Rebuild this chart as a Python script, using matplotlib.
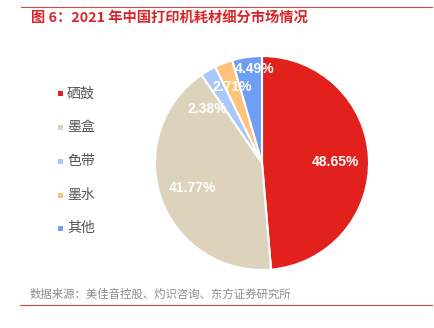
import numpy as np
import matplotlib
matplotlib.use("Agg")
import matplotlib.pyplot as plt
from matplotlib.lines import Line2D

plt.rcParams['font.family'] = ['Noto Sans CJK SC', 'DejaVu Sans']

categories = ['硒鼓', '墨盒', '色带', '墨水', '其他']
values = [48.65, 41.77, 2.38, 2.71, 4.49]
colors = ['#E2211C', '#DDD3BD', '#A9C8F7', '#FFC27A', '#6F9EF5']
label_dist = [0.69, 0.69, 0.72, 0.76, 0.88]
label_shift = [-1.5, 0.5, 15.0, 0.7, -3.8]   # degrees

W, H = 435, 328
fig = plt.figure(figsize=(W / 100, H / 100), dpi=100)

# pie axes: center (262,163), radius ~107 px
cx, cy, r = 262, 163, 107
ax = fig.add_axes([(cx - r) / W, 1 - (cy + r) / H, 2 * r / W, 2 * r / H])
wedges, _ = ax.pie(values, colors=colors, startangle=90, counterclock=False,
                   radius=1.0, wedgeprops=dict(edgecolor='white', linewidth=1.5))
ax.set_xlim(-1, 1)
ax.set_ylim(-1, 1)
ax.set_aspect('auto')
ax.axis('off')

total = sum(values)
cum = 0
for v, d, s in zip(values, label_dist, label_shift):
    mid = 90 - 360 * (cum + v / 2) / total + s
    cum += v
    a = np.deg2rad(mid)
    ax.text(d * np.cos(a), d * np.sin(a), f'{v:.2f}%', ha='center', va='center',
            color='white', fontsize=10, fontweight='bold', family=['Liberation Sans'])

# legend
ys = [93.5, 127.5, 161, 195, 228]
for cat, col, y in zip(categories, colors, ys):
    fig.patches.append(matplotlib.patches.Rectangle(
        ((58.5) / W, 1 - (y + 2.5) / H), 5 / W, 5 / H, transform=fig.transFigure,
        facecolor=col, edgecolor='none'))
    fig.text(67 / W, 1 - y / H, cat, ha='left', va='center', fontsize=10, color='#555555')

# title & frame lines
fig.add_artist(Line2D([21 / W, 432 / W], [1 - 6.5 / H, 1 - 6.5 / H], color='#D9473F', lw=0.8))
fig.add_artist(Line2D([20 / W, 432 / W], [1 - 304.5 / H, 1 - 304.5 / H], color='#D9473F', lw=0.8))
fig.text(31 / W, 1 - 18 / H, '图 6：2021 年中国打印机耗材细分市场情况', ha='left', va='center',
         fontsize=10.3, fontweight='bold', color='#D9262A')
fig.text(30 / W, 1 - 294 / H, '数据来源：美佳音控股、灼识咨询、东方证券研究所', ha='left', va='center',
         fontsize=8.2, color='#8C8C8C')

fig.savefig('out.png', dpi=100)
